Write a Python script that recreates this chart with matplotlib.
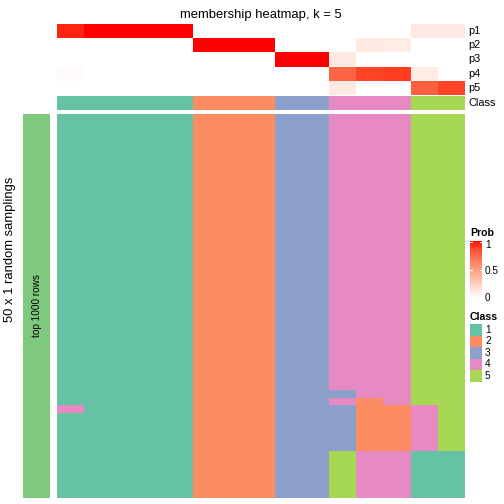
import numpy as np
import matplotlib
matplotlib.use("Agg")
import matplotlib.pyplot as plt
from matplotlib.colors import ListedColormap

# membership probabilities per sample (15 samples), classes 1..5
p1 = [0.96, 1, 1, 1, 1, 0, 0, 0, 0, 0, 0, 0, 0, 0.12, 0.12]
p2 = [0, 0, 0, 0, 0, 1, 1, 1, 0, 0, 0, 0.12, 0.10, 0, 0]
p3 = [0, 0, 0, 0, 0, 0, 0, 0, 1, 1, 0.12, 0, 0, 0, 0]
p4 = [0.02, 0, 0, 0, 0, 0, 0, 0, 0, 0, 0.76, 0.88, 0.90, 0.10, 0]
p5 = [0, 0, 0, 0, 0, 0, 0, 0, 0, 0, 0.12, 0, 0, 0.78, 0.88]
prob_labels = ["p1", "p2", "p3", "p4", "p5"]
sample_class = [1, 1, 1, 1, 1, 2, 2, 2, 3, 3, 4, 4, 4, 5, 5]

# class labels in the 50 random samplings: (number of repeated rows, classes)
sampling_rows = [
    (36, [1, 1, 1, 1, 1, 2, 2, 2, 3, 3, 4, 4, 4, 5, 5]),
    (1, [1, 1, 1, 1, 1, 2, 2, 2, 3, 3, 3, 4, 4, 5, 5]),
    (1, [1, 1, 1, 1, 1, 2, 2, 2, 3, 3, 4, 2, 4, 5, 5]),
    (1, [4, 1, 1, 1, 1, 2, 2, 2, 3, 3, 3, 2, 2, 4, 5]),
    (5, [1, 1, 1, 1, 1, 2, 2, 2, 3, 3, 3, 2, 2, 4, 5]),
    (6, [1, 1, 1, 1, 1, 2, 2, 2, 3, 3, 5, 4, 4, 1, 1]),
]
class_names = ["1", "2", "3", "4", "5"]
class_colors = ["#66C2A5", "#FC8D62", "#8DA0CB", "#E78AC3", "#A6D854"]


def lab_to_rgb(L, a, b):
    fy = (L + 16) / 116.0
    fx = fy + a / 500.0
    fz = fy - b / 200.0

    def finv(t):
        return np.where(t > 6 / 29, t ** 3, 3 * (6 / 29) ** 2 * (t - 4 / 29))

    xyz = np.array([0.95047 * finv(fx), finv(fy), 1.08883 * finv(fz)])
    m = np.array([[3.2406, -1.5372, -0.4986],
                  [-0.9689, 1.8758, 0.0415],
                  [0.0557, -0.2040, 1.0570]])
    lin = np.clip(m @ xyz, 0, 1)
    srgb = np.where(lin <= 0.0031308, 12.92 * lin, 1.055 * lin ** (1 / 2.4) - 0.055)
    return np.clip(srgb.T, 0, 1)


# white -> red, interpolated in LAB space
t = np.linspace(0, 1, 256)
prob_cmap = ListedColormap(lab_to_rgb(100 - 46.76 * t, 80.09 * t, 67.20 * t))
class_cmap = ListedColormap(class_colors)

W = H = 504.0
fig = plt.figure(figsize=(7, 7), dpi=72)
plt.rcParams['font.family'] = ['Liberation Sans', 'DejaVu Sans']


def px_axes(x0, y0, x1, y1):
    ax = fig.add_axes([x0 / W, 1 - y1 / H, (x1 - x0) / W, (y1 - y0) / H])
    ax.set_axis_off()
    return ax


ncol = len(sample_class)
hm_x0, hm_x1 = 57, 465

# top membership annotation
ax_p = px_axes(hm_x0, 24, hm_x1, 95)
probs = np.array([p1, p2, p3, p4, p5])
ax_p.pcolormesh(probs, cmap=prob_cmap, vmin=0, vmax=1)
ax_p.set_xlim(0, ncol)
ax_p.set_ylim(len(probs), 0)
for i, lab in enumerate(prob_labels):
    ax_p.text(ncol + 0.12, i + 0.5, lab, fontsize=11, va="center", ha="left")
ax_p.set_title("membership heatmap, k = 5", fontsize=13, pad=6)

# class annotation
ax_c = px_axes(hm_x0, 96, hm_x1, 110)
ax_c.pcolormesh(np.array([sample_class]), cmap=class_cmap, vmin=0.5, vmax=5.5)
ax_c.set_xlim(0, ncol)
ax_c.text(ncol + 0.12, 0.5, "Class", fontsize=11, va="center", ha="left")

# main heatmap of random samplings
rows = []
for n, r in sampling_rows:
    rows += [r] * n
mat = np.array(rows)
ax_m = px_axes(hm_x0, 113.5, hm_x1, 497.5)
ax_m.pcolormesh(mat, cmap=class_cmap, vmin=0.5, vmax=5.5)
ax_m.set_xlim(0, ncol)
ax_m.set_ylim(len(mat), 0)

# left bar
ax_l = px_axes(23, 113.5, 50, 497.5)
ax_l.add_patch(plt.Rectangle((0, 0), 1, 1, color="#7FC97F"))
ax_l.set_xlim(0, 1)
ax_l.set_ylim(0, 1)
ax_l.text(0.5, 0.5, "top 1000 rows", rotation=90, fontsize=10, ha="center", va="center")
fig.text(10 / W, 1 - 249 / H, "50 x 1 random samplings", rotation=90, fontsize=13,
         ha="center", va="center")

# Prob legend
fig.text(470 / W, 1 - 233 / H, "Prob", fontsize=10.5, fontweight="bold", va="center")
ax_cb = px_axes(470, 241, 482, 298)
ax_cb.imshow(t[::-1, None], cmap=prob_cmap, aspect="auto", extent=(0, 1, 0, 1))
ax_cb.set_xlim(0, 1)
ax_cb.set_ylim(0, 1)
for v in [0.5, 0.98]:
    ax_cb.plot([0, 0.18], [v, v], color="white", lw=1)
    ax_cb.plot([0.82, 1], [v, v], color="white", lw=1)
for y, lab in [(245, "1"), (271, "0.5"), (298, "0")]:
    fig.text(485 / W, 1 - y / H, lab, fontsize=10, va="center")

# Class legend
fig.text(470 / W, 1 - 317 / H, "Class", fontsize=10.5, fontweight="bold", va="center")
for i, (name, col) in enumerate(zip(class_names, class_colors)):
    y0 = 324 + 11.5 * i
    ax_s = px_axes(470, y0, 482, y0 + 11.5)
    ax_s.add_patch(plt.Rectangle((0, 0), 1, 1, color=col))
    ax_s.set_xlim(0, 1)
    ax_s.set_ylim(0, 1)
    fig.text(485 / W, 1 - (y0 + 5.75) / H, name, fontsize=10, va="center")

plt.savefig("out.png", dpi=72)
